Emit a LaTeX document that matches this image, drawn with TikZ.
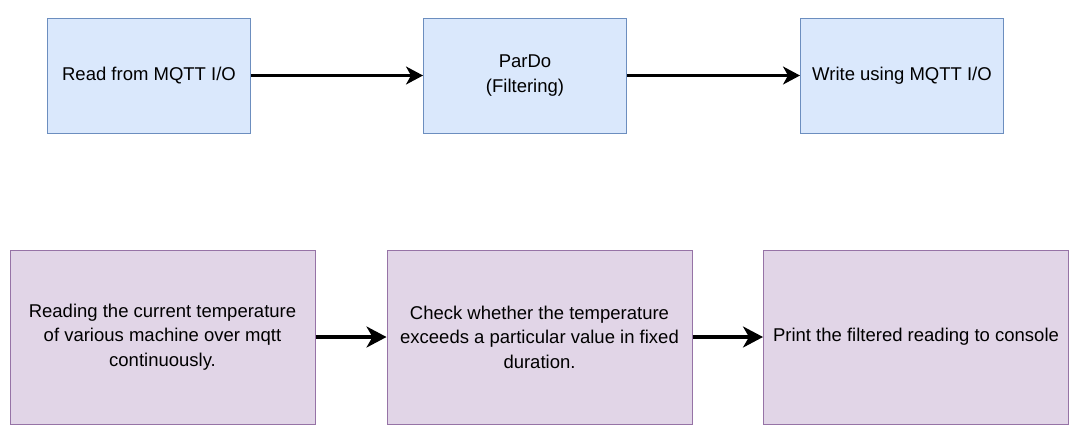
\documentclass[tikz,border=0pt]{standalone}
\usepackage{fontspec}
\setmainfont{Liberation Sans}
\usetikzlibrary{arrows.meta}

\definecolor{bluefill}{HTML}{DAE8FC}
\definecolor{blueline}{HTML}{6C8EBF}
\definecolor{purplefill}{HTML}{E1D5E7}
\definecolor{purpleline}{HTML}{9673A6}

\begin{document}
\begin{tikzpicture}[x=1pt, y=-1pt,
                    every node/.style={font=\fontsize{18.5}{24.5}\selectfont,
                                  align=center, inner sep=0pt},
                    topbox/.style={draw=blueline, fill=bluefill, line width=1pt,
                                  minimum width=203pt, minimum height=115pt},
                    lowbox/.style={draw=purpleline, fill=purplefill, line width=1pt,
                                  minimum width=305pt, minimum height=174pt},
                    toparrow/.style={line width=2.2pt, -{Stealth[length=17pt, width=18pt, inset=5pt]}},
                    lowarrow/.style={line width=3.2pt, -{Stealth[length=20pt, width=21pt, inset=6pt]}}]
                      \useasboundingbox (0,0) rectangle (1078,440);

                      % pipeline
                      \node[topbox] (read) at (149,75.5) {Read from MQTT I/O};
                      \node[topbox] (pardo) at (525,75.5) {ParDo\\(Filtering)};
                      \node[topbox] (write) at (902,75.5) {Write using MQTT I/O};

                      % what each step does
                      \node[lowbox] (reading) at (162.5,337) {Reading the current temperature\\of various machine over mqtt\\continuously.};
                      \node[lowbox] (check) at (539.5,337) {Check whether the temperature\\exceeds a particular value in fixed\\duration.};
                      \node[lowbox] (print) at (916,337) {Print the filtered reading to console};

                      \foreach \i/\j in {read/pardo, pardo/write} {
                              \draw[toparrow] (\i.east) -- (\j.west);
                          }

                      \foreach \i/\j in {reading/check, check/print} {
                              \draw[lowarrow] (\i.east) -- (\j.west);
                          }
                  \end{tikzpicture}
\end{document}
